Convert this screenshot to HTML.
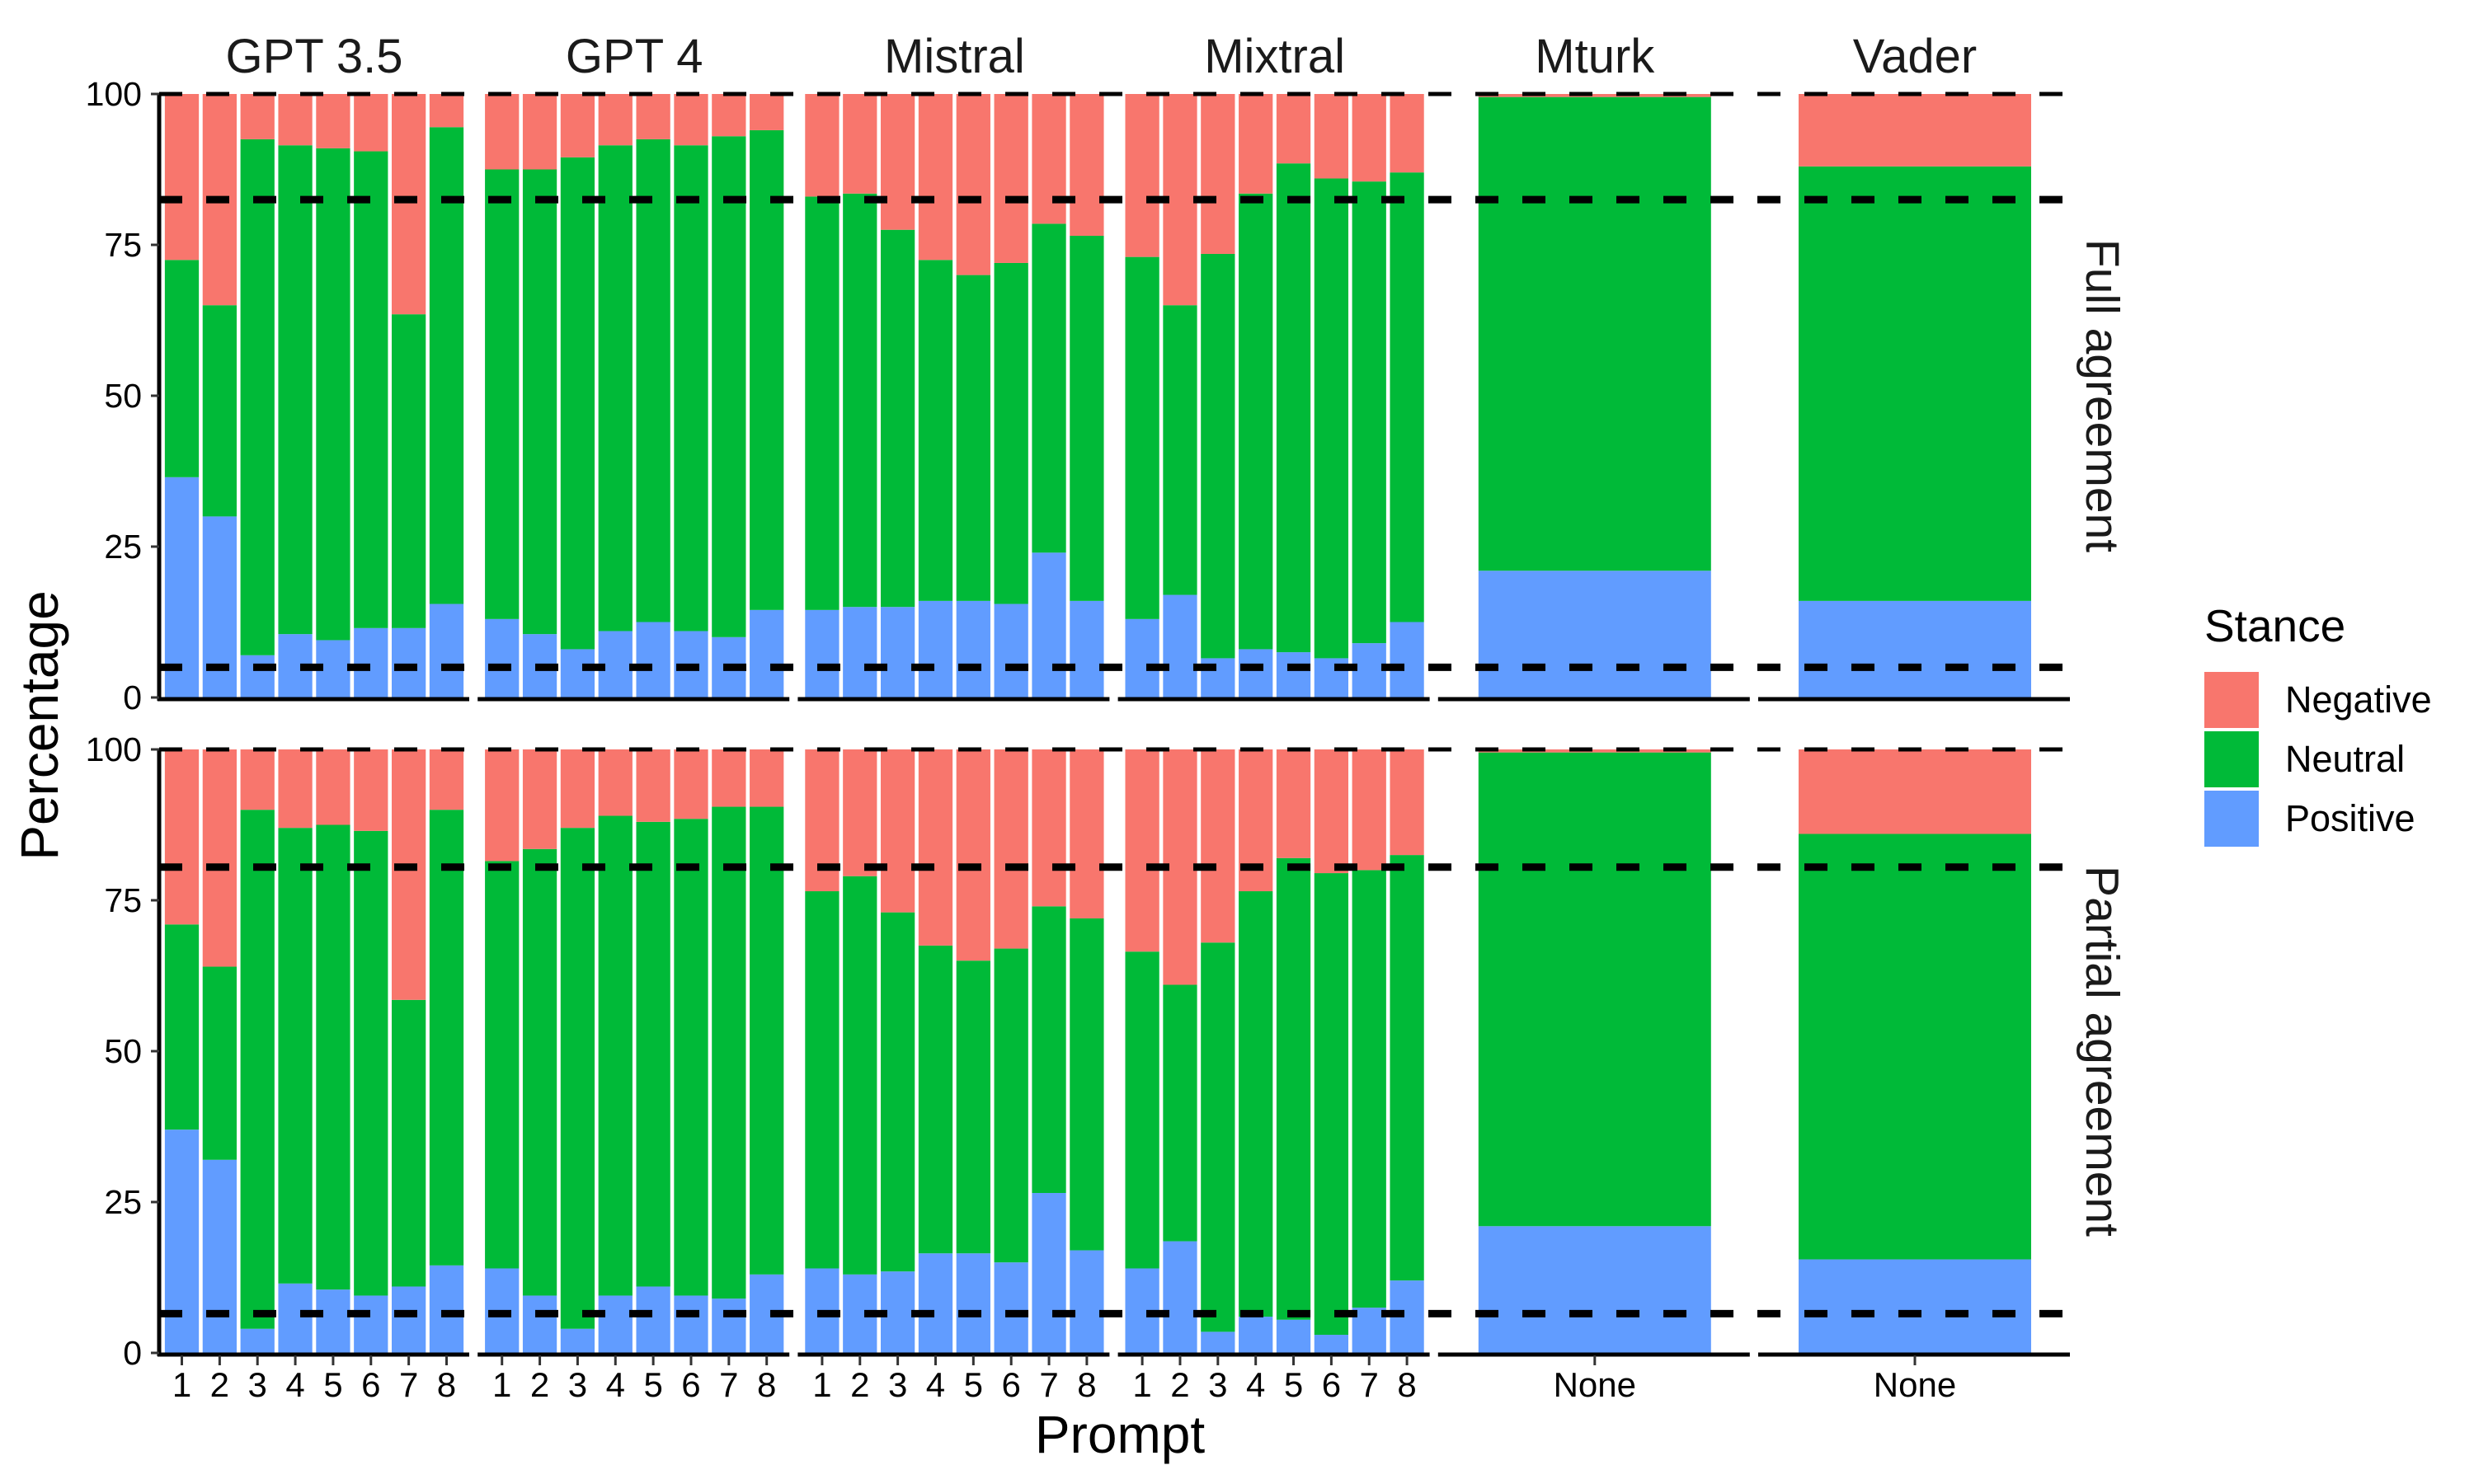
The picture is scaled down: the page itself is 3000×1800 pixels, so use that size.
<!DOCTYPE html>
<html><head><meta charset="utf-8"><style>
html,body{margin:0;padding:0;background:#fff;}
svg{display:block;font-family:"Liberation Sans",Arial,sans-serif;}
</style></head><body>
<svg id="chart" width="3000" height="1800" viewBox="0 0 3000 1800"></svg>
<script>
const models = ["GPT 3.5","GPT 4","Mistral","Mixtral","Mturk","Vader"];
const rows = ["Full agreement","Partial agreement"];
const prompts = ["1","2","3","4","5","6","7","8"];
const stances = ["Negative","Neutral","Positive"];
const yTicks = [0,25,50,75,100];
const refFull = [100,82.5,5];
const refPartial = [100,80.5,6.5];
// positive % per bar
const posFull = [
 [36.5,30,7,10.5,9.5,11.5,11.5,15.5],
 [13,10.5,8,11,12.5,11,10,14.5],
 [14.5,15,15,16,16,15.5,24,16],
 [13,17,6.5,8,7.5,6.5,9,12.5],
 [21],[16]];
const negFull = [
 [27.5,35,7.5,8.5,9,9.5,36.5,5.5],
 [12.5,12.5,10.5,8.5,7.5,8.5,7,6],
 [17,16.5,22.5,27.5,30,28,21.5,23.5],
 [27,35,26.5,16.5,11.5,14,14.5,13],
 [0.5],[12]];
const posPartial = [
 [37,32,4,11.5,10.5,9.5,11,14.5],
 [14,9.5,4,9.5,11,9.5,9,13],
 [14,13,13.5,16.5,16.5,15,26.5,17],
 [14,18.5,3.5,6,5.5,3,7.5,12],
 [21],[15.5]];
const negPartial = [
 [29,36,10,13,12.5,13.5,41.5,10],
 [18.5,16.5,13,11,12,11.5,9.5,9.5],
 [23.5,21,27,32.5,35,33,26,28],
 [33.5,39,32,23.5,18,20.5,20,17.5],
 [0.5],[14]];

const colors = {Negative:"#F8766D",Neutral:"#00BA38",Positive:"#619CFF"};
const svg = document.getElementById('chart');
const NS = "http://www.w3.org/2000/svg";
function mk(tag, attrs, parent){const e=document.createElementNS(NS,tag);for(const k in attrs)e.setAttribute(k,attrs[k]);(parent||svg).appendChild(e);return e;}

const PX0=193, PPITCH=388.2, PW=376;
const rowTop=[114,909], PH=732;
function yScale(r,v){return rowTop[r]+PH*(1-v/100);}
function panelX(p){return PX0+p*PPITCH;}
function xBand(p,i,n){const lo=0.4, hi=n+0.6; const u=PW/(hi-lo); return {c:panelX(p)+(i+1-lo)*u, w:0.9*u};}

const posData=[posFull,posPartial], negData=[negFull,negPartial], refs=[refFull,refPartial];

for(let r=0;r<2;r++){
  for(let p=0;p<6;p++){
    const pos=posData[r][p], neg=negData[r][p], n=pos.length;
    for(let i=0;i<n;i++){
      const b=xBand(p,i,n);
      const x=b.c-b.w/2;
      const neu=100-pos[i]-neg[i];
      const segs=[["Positive",0,pos[i]],["Neutral",pos[i],pos[i]+neu],["Negative",pos[i]+neu,100]];
      for(const s of segs){
        const y1=yScale(r,s[2]), y0=yScale(r,s[1]);
        const rc=mk('rect',{x:x,y:y1,width:b.w,height:y0-y1,fill:colors[s[0]]});
        
        
      }
    }
    const ax=mk('line',{x1:panelX(p)-2,x2:panelX(p)+PW,y1:yScale(r,0)+2,y2:yScale(r,0)+2,stroke:"#000","stroke-width":5});
    
    
    if(r===1){
      const labs = n===8?prompts:["None"];
      for(let i=0;i<n;i++){
        const b=xBand(p,i,n);
        const t=mk('line',{x1:b.c,x2:b.c,y1:1644,y2:1656,stroke:"#333","stroke-width":3});
        
        
        const tx=mk('text',{x:b.c,y:1694,"font-size":42,"text-anchor":"middle",fill:"#000"});
        tx.textContent=labs[i];
        
        
      }
    }
    if(r===0){
      const st=mk('text',{x:panelX(p)+PW/2,y:88,"font-size":58,"text-anchor":"middle",fill:"#1a1a1a"});
      st.textContent=models[p];
      
      
    }
  }
  for(const v of refs[r]){
    const y=yScale(r,v);
    const dl=mk('line',{x1:PX0,x2:panelX(5)+PW,y1:y,y2:y,stroke:"#000","stroke-width":v===100?5:9,"stroke-dasharray":"28,29"});
    
    
  }
  const ya=mk('line',{x1:PX0,x2:PX0,y1:rowTop[r],y2:yScale(r,0)+4,stroke:"#000","stroke-width":5});
  
  
  for(const v of yTicks){
    const y=yScale(r,v);
    const tk=mk('line',{x1:183,x2:193,y1:y,y2:y,stroke:"#333","stroke-width":3});
    
    
    const tl=mk('text',{x:172,y:y+14,"font-size":41,"text-anchor":"end",fill:"#000"});
    tl.textContent=String(v);
    
    
  }
  const cy=rowTop[r]+PH/2;
  const rl=mk('text',{x:2530,y:cy,"font-size":57,"text-anchor":"middle",fill:"#1a1a1a",transform:`rotate(90 2530 ${cy})`});
  rl.textContent=rows[r];
  
  
}
</script>
<div style="position:absolute;left:0;top:0;width:3000px;height:1800px;pointer-events:none">
<svg width="3000" height="1800" style="position:absolute;left:0;top:0">
<text x="1358" y="1762" font-size="64" text-anchor="middle" font-family="Liberation Sans, sans-serif">Prompt</text>
<text x="70" y="880" font-size="64" text-anchor="middle" font-family="Liberation Sans, sans-serif" transform="rotate(-90 70 880)">Percentage</text>
<g>
<text x="2673" y="778" font-size="55" font-family="Liberation Sans, sans-serif">Stance</text>
<rect x="2673" y="815" width="66" height="68" fill="#F8766D"/>
<rect x="2673" y="887" width="66" height="68" fill="#00BA38"/>
<rect x="2673" y="959" width="66" height="68" fill="#619CFF"/>
<text x="2771" y="864" font-size="45" font-family="Liberation Sans, sans-serif">Negative</text>
<text x="2771" y="936" font-size="45" font-family="Liberation Sans, sans-serif">Neutral</text>
<text x="2771" y="1008" font-size="45" font-family="Liberation Sans, sans-serif">Positive</text>
</g>
</svg>
</div>
</body></html>
